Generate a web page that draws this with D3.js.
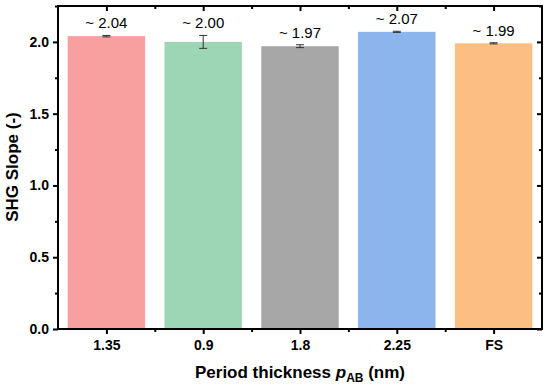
<!DOCTYPE html>
<html><head><meta charset="utf-8">
<script src="https://cdn.jsdelivr.net/npm/d3@7"></script>
<style>body{margin:0;background:#fff}svg{display:block}text{font-family:"Liberation Sans",Arial,sans-serif}</style>
</head><body><svg id="c" width="550" height="389"></svg>
<script>
const categories = ["1.35","0.9","1.8","2.25","FS"];
const values = [2.04, 2.00, 1.97, 2.07, 1.99];
const errors = [0.005, 0.045, 0.01, 0.004, 0.004];
const labels = ["~ 2.04","~ 2.00","~ 1.97","~ 2.07","~ 1.99"];
const colors = ["#F7A09F","#9DD6B4","#A7A7A7","#8BB5EC","#FDBF81"];
const yTicks = [0,0.5,1.0,1.5,2.0];
const yMinor = [0.25,0.75,1.25,1.75,2.25];

const svg = d3.select("#c");
const L=58,R=542,T=6,B=329;
const x = d3.scaleBand().domain(categories).range([L,R]).paddingInner(0.2).paddingOuter(0.1);
const xc = d3.scaleBand().domain(categories).range([L,R]);
const y = d3.scaleLinear().domain([0,2.25]).range([B,T]);

const g = svg.append("g");
g.selectAll("rect.bar").data(categories).join("rect").attr("class","bar")
 .attr("x",d=>x(d)).attr("width",x.bandwidth())
 .attr("y",(d,i)=>y(values[i])).attr("height",(d,i)=>B-y(values[i]))
 .attr("fill",(d,i)=>colors[i]);

const eg = g.selectAll("g.err").data(categories).join("g").attr("class","err");
eg.each(function(d,i){
  const cx = xc(d)+xc.bandwidth()/2, s=d3.select(this);
  const y1=y(values[i]+errors[i]), y2=y(values[i]-errors[i]);
  s.append("line").attr("x1",cx).attr("x2",cx).attr("y1",y1).attr("y2",y2);
  s.append("line").attr("x1",cx-4).attr("x2",cx+4).attr("y1",y1).attr("y2",y1);
  s.append("line").attr("x1",cx-4).attr("x2",cx+4).attr("y1",y2).attr("y2",y2);
});
eg.selectAll("line").attr("stroke","#333").attr("stroke-width",1);

g.selectAll("text.lab").data(categories).join("text").attr("class","lab")
 .attr("x",d=>xc(d)+xc.bandwidth()/2).attr("y",(d,i)=>y(values[i]+errors[i])-7)
 .attr("text-anchor","middle").attr("font-size",15).attr("fill","#000").text((d,i)=>labels[i]);

function style(a){a.select(".domain").remove();a.selectAll("line").attr("stroke","#000").attr("stroke-width",2);}
const bounds = categories.slice(1).map(c=>xc(c));
const px = d3.scaleLinear().domain([L,R]).range([L,R]);
const bx = svg.append("g").attr("transform",`translate(0,${B})`)
 .call(d3.axisBottom(px).tickValues(categories.map(c=>xc(c)+xc.bandwidth()/2)).tickSize(5).tickPadding(6).tickFormat((d,i)=>categories[i]));
style(bx); bx.selectAll("text").attr("font-size",14).attr("font-weight","bold").attr("fill","#000");
svg.append("g").attr("transform",`translate(0,${B})`).call(d3.axisBottom(px).tickValues(bounds).tickSize(3).tickFormat("")).call(style);
svg.append("g").attr("transform",`translate(0,${T})`).call(d3.axisBottom(px).tickValues(categories.map(c=>xc(c)+xc.bandwidth()/2)).tickSize(5).tickFormat("")).call(style);
svg.append("g").attr("transform",`translate(0,${T})`).call(d3.axisBottom(px).tickValues(bounds).tickSize(3).tickFormat("")).call(style);
const ly = svg.append("g").attr("transform",`translate(${L},0)`).call(d3.axisLeft(y).tickValues(yTicks).tickSize(5).tickPadding(4).tickFormat(d3.format(".1f")));
style(ly); ly.selectAll("text").attr("font-size",14).attr("font-weight","bold").attr("fill","#000");
svg.append("g").attr("transform",`translate(${L},0)`).call(d3.axisLeft(y).tickValues(yMinor).tickSize(3).tickFormat("")).call(style);
svg.append("g").attr("transform",`translate(${R},0)`).call(d3.axisLeft(y).tickValues(yTicks).tickSize(5).tickFormat("")).call(style);
svg.append("g").attr("transform",`translate(${R},0)`).call(d3.axisLeft(y).tickValues(yMinor).tickSize(3).tickFormat("")).call(style);
svg.append("rect").attr("x",L).attr("y",T).attr("width",R-L).attr("height",B-T).attr("fill","none").attr("stroke","#000").attr("stroke-width",2);

const xt = svg.append("text").attr("x",300).attr("y",378).attr("text-anchor","middle").attr("font-size",17).attr("font-weight","bold").attr("fill","#000");
xt.append("tspan").text("Period thickness ");
xt.append("tspan").attr("font-style","italic").text("p");
xt.append("tspan").attr("font-size",12).attr("dy",4).text("AB");
xt.append("tspan").attr("dy",-4).text(" (nm)");
svg.append("text").attr("transform","translate(18,167) rotate(-90)").attr("text-anchor","middle").attr("font-size",17).attr("font-weight","bold").attr("fill","#000").text("SHG Slope (-)");
</script></body></html>
